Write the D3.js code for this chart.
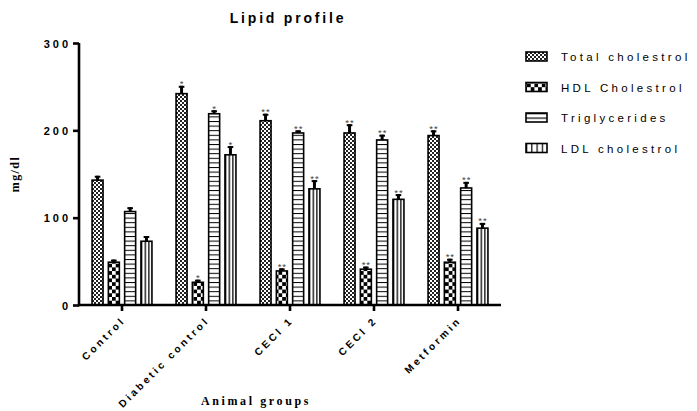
<!DOCTYPE html>
<html>
<head>
<meta charset="utf-8">
<script src="https://cdn.jsdelivr.net/npm/d3@7"></script>
<style>
  body { margin: 0; background: #fff; }
  svg { display: block; }
  .tick-y text { font-family: "Liberation Sans", Arial, sans-serif; font-weight: bold; font-size: 11px; letter-spacing: 3px; }
  .xlab { font-family: "Liberation Sans", Arial, sans-serif; font-weight: bold; font-size: 10.2px; letter-spacing: 2.9px; }
  .legend text { font-family: "Liberation Sans", Arial, sans-serif; font-size: 11.5px; letter-spacing: 3.3px; }
</style>
</head>
<body>
<div id="chart"></div>
<script>

var groups = ["Control", "Diabetic control", "CECl 1", "CECl 2", "Metformin"];
var series = ["Total cholestrol", "HDL Cholestrol", "Triglycerides", "LDL cholestrol"];

var total_chol = [143, 242, 211, 197, 194];
var total_err  = [5, 9, 8, 10, 6];
var hdl_chol   = [49, 26, 39, 41, 49];
var hdl_err    = [3, 3, 3, 3, 4];
var trig       = [107, 219, 197, 189, 134];
var trig_err   = [5, 4, 3, 6, 7];
var ldl_chol   = [73, 172, 133, 121, 88];
var ldl_err    = [6, 10, 10, 6, 6];

// significance marks per group
var stars = ["", "*", "**", "**", "**"];

var y_ticks = [0, 100, 200, 300];

var values = [total_chol, hdl_chol, trig, ldl_chol];
var errors = [total_err, hdl_err, trig_err, ldl_err];
var patterns = ["pat-total", "pat-hdl", "pat-trig", "pat-ldl"];

var data = [];
groups.forEach(function (g, gi) {
    series.forEach(function (s, si) {
        data.push({group: g, series: s, value: values[si][gi], err: errors[si][gi], star: stars[gi], pat: patterns[si]});
    });
});

var width = 697, height = 411;

var svg = d3.select("#chart")
    .append("svg")
    .attr("width", width)
    .attr("height", height);

var xScale = d3.scaleBand()
    .domain(groups)
    .range([80, 500])
    .paddingInner(0)
    .paddingOuter(0);

var xInner = d3.scaleBand()
    .domain(series)
    .range([0, xScale.bandwidth()])
    .paddingInner(0.325)
    .paddingOuter(0.74);

var yScale = d3.scaleLinear()
    .domain([0, 300])
    .range([305, 43]);

var bw = xInner.bandwidth();

// patterns
var defs = svg.append("defs");

var p1 = defs.append("pattern")
    .attr("id", "pat-total")
    .attr("patternUnits", "userSpaceOnUse")
    .attr("width", 4).attr("height", 4);
p1.append("rect").attr("width", 4).attr("height", 4).attr("fill", "#fff");
p1.append("rect").attr("width", 2).attr("height", 2).attr("fill", "#222");
p1.append("rect").attr("x", 2).attr("y", 2).attr("width", 2).attr("height", 2).attr("fill", "#222");

var p2 = defs.append("pattern")
    .attr("id", "pat-hdl")
    .attr("patternUnits", "userSpaceOnUse")
    .attr("width", 7.4).attr("height", 7.4)
    .attr("x", 1).attr("y", 1);
p2.append("rect").attr("width", 7.4).attr("height", 7.4).attr("fill", "#fff");
p2.append("rect").attr("width", 3.7).attr("height", 3.7).attr("fill", "#000");
p2.append("rect").attr("x", 3.7).attr("y", 3.7).attr("width", 3.7).attr("height", 3.7).attr("fill", "#000");

var p3 = defs.append("pattern")
    .attr("id", "pat-trig")
    .attr("patternUnits", "userSpaceOnUse")
    .attr("width", 10).attr("height", 4.6)
    .attr("y", yScale(0));
p3.append("rect").attr("width", 10).attr("height", 4.6).attr("fill", "#fff");
p3.append("rect").attr("y", 0).attr("width", 10).attr("height", 1).attr("fill", "#000");

var p4 = defs.append("pattern")
    .attr("id", "pat-ldl")
    .attr("patternUnits", "objectBoundingBox")
    .attr("width", 1 / 3).attr("height", 1);
p4.append("rect").attr("width", 50).attr("height", 1000).attr("fill", "#fff");
p4.append("rect").attr("x", 0).attr("width", 1.3).attr("height", 1000).attr("fill", "#000");

// legend patterns (aligned to swatches)
var lp3 = defs.append("pattern")
    .attr("id", "leg-trig")
    .attr("patternUnits", "objectBoundingBox")
    .attr("width", 1).attr("height", 0.5);
lp3.append("rect").attr("width", 50).attr("height", 50).attr("fill", "#fff");
lp3.append("rect").attr("width", 50).attr("height", 1.2).attr("fill", "#000");

var lp4 = defs.append("pattern")
    .attr("id", "leg-ldl")
    .attr("patternUnits", "objectBoundingBox")
    .attr("width", 0.25).attr("height", 1);
lp4.append("rect").attr("width", 50).attr("height", 50).attr("fill", "#fff");
lp4.append("rect").attr("width", 1.2).attr("height", 50).attr("fill", "#000");

// title
svg.append("text")
    .attr("x", 288)
    .attr("y", 23)
    .attr("text-anchor", "middle")
    .style("font-family", "Liberation Sans, Arial, sans-serif")
    .style("font-weight", "bold")
    .style("font-size", "14px")
    .style("letter-spacing", "2.8px")
    .text("Lipid profile");

// bars
var gBars = svg.append("g");

gBars.selectAll("rect.bar")
    .data(data)
    .enter()
    .append("rect")
    .attr("class", "bar")
    .attr("x", function (d) { return xScale(d.group) + xInner(d.series); })
    .attr("y", function (d) { return yScale(d.value); })
    .attr("width", bw)
    .attr("height", function (d) { return yScale(0) - yScale(d.value); })
    .attr("fill", function (d) { return "url(#" + d.pat + ")"; })
    .attr("stroke", "#000")
    .attr("stroke-width", 1.6);

// error bars
gBars.selectAll("line.err")
    .data(data)
    .enter()
    .append("line")
    .attr("class", "err")
    .attr("x1", function (d) { return xScale(d.group) + xInner(d.series) + bw / 2; })
    .attr("x2", function (d) { return xScale(d.group) + xInner(d.series) + bw / 2; })
    .attr("y1", function (d) { return yScale(d.value); })
    .attr("y2", function (d) { return yScale(d.value + d.err); })
    .attr("stroke", "#000")
    .attr("stroke-width", 3);

gBars.selectAll("line.cap")
    .data(data)
    .enter()
    .append("line")
    .attr("class", "cap")
    .attr("x1", function (d) { return xScale(d.group) + xInner(d.series) + bw / 2 - 2.8; })
    .attr("x2", function (d) { return xScale(d.group) + xInner(d.series) + bw / 2 + 2.8; })
    .attr("y1", function (d) { return yScale(d.value + d.err) + 1; })
    .attr("y2", function (d) { return yScale(d.value + d.err) + 1; })
    .attr("stroke", "#000")
    .attr("stroke-width", 2);

// stars
gBars.selectAll("text.star")
    .data(data.filter(function (d) { return d.star !== ""; }))
    .enter()
    .append("text")
    .attr("class", "star")
    .attr("x", function (d) { return xScale(d.group) + xInner(d.series) + bw / 2 + 0.5; })
    .attr("y", function (d) { return yScale(d.value + d.err) + 1.5; })
    .attr("text-anchor", "middle")
    .style("font-family", "Liberation Sans, Arial, sans-serif")
    .style("font-size", "9.5px")
    .style("letter-spacing", "1px")
    .style("fill", "#444")
    .text(function (d) { return d.star; });

// y axis
var yAxis = svg.append("g")
    .attr("class", "tick-y")
    .attr("transform", "translate(79,0)")
    .call(d3.axisLeft(yScale).tickValues(y_ticks).tickSize(6).tickSizeOuter(0).tickPadding(4));
yAxis.select(".domain").attr("stroke-width", 2.6).attr("d", "M0," + (yScale(0) + 1.3) + "V" + yScale(300));
yAxis.selectAll(".tick line").attr("stroke-width", 2.6);
yAxis.selectAll(".tick text").attr("dy", "0.38em").attr("dx", "2px");

// x axis
var xAxis = svg.append("g")
    .attr("transform", "translate(0," + yScale(0) + ")")
    .call(d3.axisBottom(xScale).tickSize(6).tickSizeOuter(0).tickFormat(""));
xAxis.select(".domain").attr("stroke-width", 2.6).attr("d", "M78.7,0H501");
xAxis.selectAll(".tick line").attr("stroke-width", 2.6);

svg.append("g")
    .selectAll("text.xlab")
    .data(groups)
    .enter()
    .append("text")
    .attr("class", "xlab")
    .attr("text-anchor", "end")
    .attr("transform", function (d) {
        return "translate(" + (xScale(d) + xScale.bandwidth() / 2 + 4) + "," + (yScale(0) + 16) + ") rotate(-45)";
    })
    .text(function (d) { return d; });

// axis titles
svg.append("text")
    .attr("x", 256)
    .attr("y", 405)
    .attr("text-anchor", "middle")
    .style("font-family", "Liberation Serif, Times New Roman, serif")
    .style("font-weight", "bold")
    .style("font-size", "12px")
    .style("letter-spacing", "2.6px")
    .text("Animal groups");

svg.append("text")
    .attr("transform", "translate(19,174) rotate(-90)")
    .attr("text-anchor", "middle")
    .style("font-family", "Liberation Serif, Times New Roman, serif")
    .style("font-weight", "bold")
    .style("font-size", "12px")
    .style("letter-spacing", "1.4px")
    .text("mg/dl");

// legend
var legPat = ["url(#pat-total)", "url(#pat-hdl)", "url(#leg-trig)", "url(#leg-ldl)"];
var legend = svg.append("g")
    .attr("class", "legend")
    .selectAll("g")
    .data(series)
    .enter()
    .append("g")
    .attr("transform", function (d, i) { return "translate(526," + (52 + i * 30.5) + ")"; });

legend.append("rect")
    .attr("width", 21)
    .attr("height", 9)
    .attr("fill", function (d, i) { return legPat[i]; })
    .attr("stroke", "#000")
    .attr("stroke-width", 1.6);

legend.append("text")
    .attr("x", 35)
    .attr("y", 9)
    .text(function (d) { return d; });

</script>
</body>
</html>
